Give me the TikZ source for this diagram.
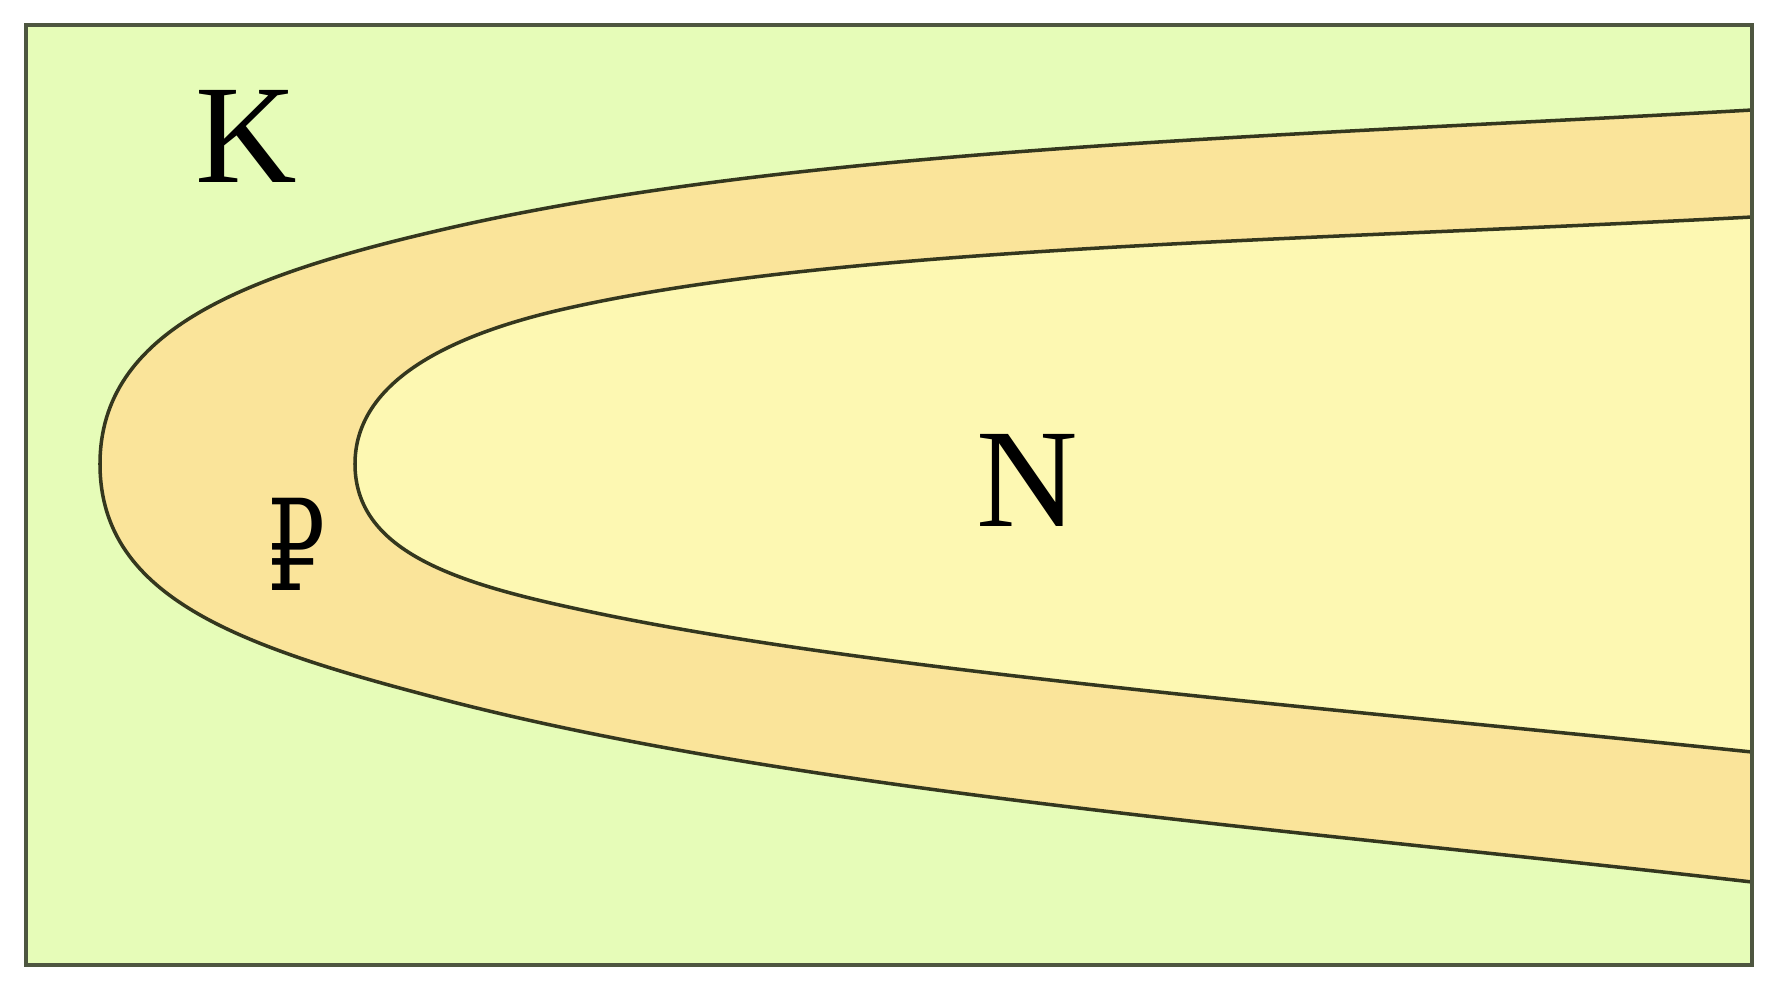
\documentclass[tikz,border=0pt]{standalone}
\usepackage{fontspec}
\setmainfont{Liberation Serif}
\newfontfamily\rublefont{DejaVu Serif}
\definecolor{fieldgreen}{HTML}{E6FCB8}
\definecolor{bandorange}{HTML}{FAE49A}
\definecolor{coreyellow}{HTML}{FDF8B2}
\definecolor{edgeolive}{HTML}{34371E}
\definecolor{framegray}{HTML}{4E5640}

\begin{document}
\begin{tikzpicture}[
    x=0.01cm, y=-0.01cm,
    boundary/.style={draw=edgeolive, line width=1pt},
    frame/.style={draw=framegray, line width=1.2pt},
    letter/.style={font=\fontsize{40}{42}\selectfont, text=black, inner sep=0pt}
]
    \useasboundingbox (0,0) rectangle (1781,981);
    \fill[white] (0,0) rectangle (1781,981);

    % Field
    \fill[fieldgreen] (26,25) rectangle (1752,965);

    % Outer band (fill closes along the right edge)
    \draw[boundary, fill=bandorange] (1752,110)
        .. controls (1300,136) and (800,147) .. (445,229)
        .. controls (245,275) and (100,330) .. (100,464)
        .. controls (100,600) and (245,648) .. (445,700)
        .. controls (800,792) and (1300,830) .. (1752,882);

    % Core
    \draw[boundary, fill=coreyellow] (1752,217)
        .. controls (1300,241) and (850,246) .. (573,307)
        .. controls (453,333) and (355,380) .. (355,464)
        .. controls (355,550) and (453,582) .. (573,608)
        .. controls (850,669) and (1300,705) .. (1752,752);

    \draw[frame] (26,25) rectangle (1752,965);

    % Labels
    \node[letter] (K) at (246,136) {K};
    \node[letter] (P) at (296,544) {\scalebox{0.72}[1]{\fontsize{36}{40}\selectfont\rublefont ₽}};
    \node[letter] (N) at (1027,480) {N};
\end{tikzpicture}
\end{document}
